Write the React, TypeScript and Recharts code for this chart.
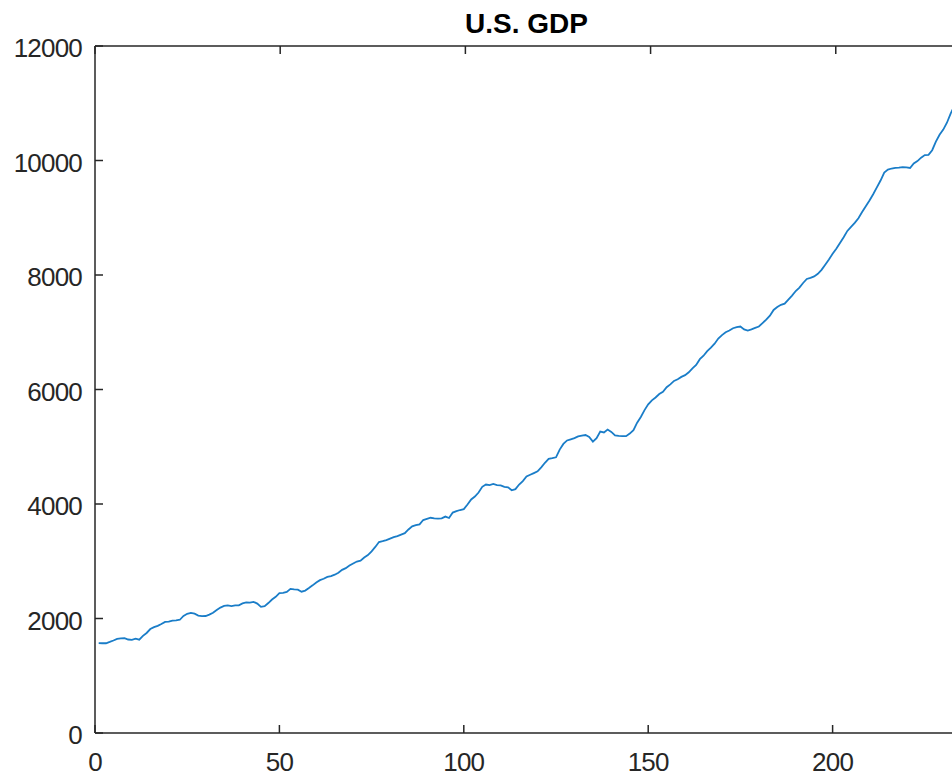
import { LineChart, Line, XAxis, YAxis } from "recharts";

// quarterly real GDP, index 1..234
const gdp: number[] = [
  1570, 1568, 1568, 1591, 1616, 1645, 1654, 1658, 1633, 1628, 1647, 1630,
  1697, 1747, 1816, 1848, 1871, 1903, 1941, 1944, 1964, 1966, 1978, 2044,
  2082, 2098, 2085, 2052, 2042, 2044, 2067, 2100, 2148, 2191, 2219, 2229,
  2218, 2229, 2231, 2263, 2280, 2276, 2290, 2261, 2204, 2215, 2270, 2331,
  2379, 2445, 2448, 2464, 2517, 2507, 2504, 2468, 2488, 2532, 2579, 2630,
  2670, 2694, 2727, 2740, 2765, 2800, 2850, 2880, 2925, 2960, 2995, 3010,
  3065, 3107, 3173, 3250, 3335, 3350, 3370, 3395, 3420, 3440, 3465, 3490,
  3555, 3610, 3630, 3645, 3720, 3740, 3760, 3750, 3745, 3750, 3780, 3755,
  3850, 3875, 3895, 3910, 3990, 4080, 4130, 4200, 4300, 4340, 4330, 4350,
  4330, 4325, 4300, 4290, 4240, 4260, 4340, 4400, 4480, 4510, 4540, 4570,
  4640, 4720, 4790, 4800, 4815, 4950, 5050, 5110, 5130, 5150, 5180, 5195,
  5205, 5170, 5090, 5150, 5265, 5250, 5300, 5260, 5200, 5190, 5185, 5185,
  5230, 5290, 5420, 5520, 5640, 5740, 5810, 5860, 5920, 5960, 6040, 6090,
  6150, 6180, 6220, 6250, 6300, 6370, 6430, 6530, 6590, 6670, 6730, 6800,
  6890, 6950, 7000, 7030, 7070, 7090, 7100, 7050, 7030, 7050, 7075, 7100,
  7160, 7220, 7290, 7390, 7440, 7480, 7500, 7570, 7640, 7720, 7780, 7860,
  7930, 7950, 7975, 8020, 8090, 8180, 8270, 8370, 8460, 8560, 8660, 8770,
  8840, 8910, 8990, 9100, 9200, 9300, 9410, 9530, 9650, 9790, 9840, 9860,
  9870, 9875, 9885, 9880, 9870, 9950, 9990, 10050, 10095, 10100, 10180, 10330,
  10450, 10540, 10660, 10820, 10950, 11050,
];

const xTicks = [0, 50, 100, 150, 200];
const yTicks = [0, 2000, 4000, 6000, 8000, 10000, 12000];

const data = gdp.map((v, i) => ({ q: i + 1, gdp: v }));

const axisColor = "#262626";
const labelStyle = { fill: axisColor, fontSize: 26, letterSpacing: -0.8 };
const hiddenTick = { fill: "transparent", fontSize: 1 };
const lineStyle = { stroke: axisColor, strokeWidth: 1.5 };

export default function App() {
  return (
    <div
      style={{
        position: "absolute",
        left: 0,
        top: 0,
        width: 952,
        height: 776,
        overflow: "hidden",
        background: "#fff",
        fontFamily: "'Liberation Sans', Arial, sans-serif",
      }}
    >
      <div
        style={{
          position: "absolute",
          top: 10,
          left: 0,
          width: 1053,
          textAlign: "center",
          fontSize: 28,
          lineHeight: "28px",
          fontWeight: "bold",
          color: "#000",
        }}
      >
        U.S. GDP
      </div>
      <LineChart
        width={975}
        height={776}
        data={data}
        margin={{ top: 46, right: 17, bottom: 0, left: 0 }}
      >
        {/* negative tickSize -> ticks point into the plot, like matlab */}
        <XAxis
          type="number"
          dataKey="q"
          domain={[0, 234]}
          ticks={xTicks}
          height={43}
          tickSize={-8}
          tickMargin={28}
          tickLine={lineStyle}
          axisLine={lineStyle}
          tick={labelStyle}
          allowDataOverflow
        />
        <XAxis
          xAxisId="top"
          type="number"
          domain={[0, 234]}
          ticks={xTicks}
          orientation="top"
          mirror
          height={1}
          tick={hiddenTick}
          tickSize={8}
          axisLine={lineStyle}
          tickLine={lineStyle}
          allowDataOverflow
        />
        <YAxis
          type="number"
          domain={[0, 12000]}
          ticks={yTicks}
          width={95}
          tickSize={-8}
          tickMargin={21}
          tickLine={lineStyle}
          axisLine={lineStyle}
          tick={{ ...labelStyle, dy: 2 }}
        />
        <YAxis
          yAxisId="right"
          type="number"
          domain={[0, 12000]}
          ticks={yTicks}
          orientation="right"
          mirror
          width={1}
          tick={hiddenTick}
          tickSize={8}
          axisLine={lineStyle}
          tickLine={lineStyle}
        />
        <Line
          type="linear"
          dataKey="gdp"
          stroke="#1a7dc8"
          strokeWidth={1.8}
          dot={false}
          isAnimationActive={false}
        />
      </LineChart>
    </div>
  );
}
